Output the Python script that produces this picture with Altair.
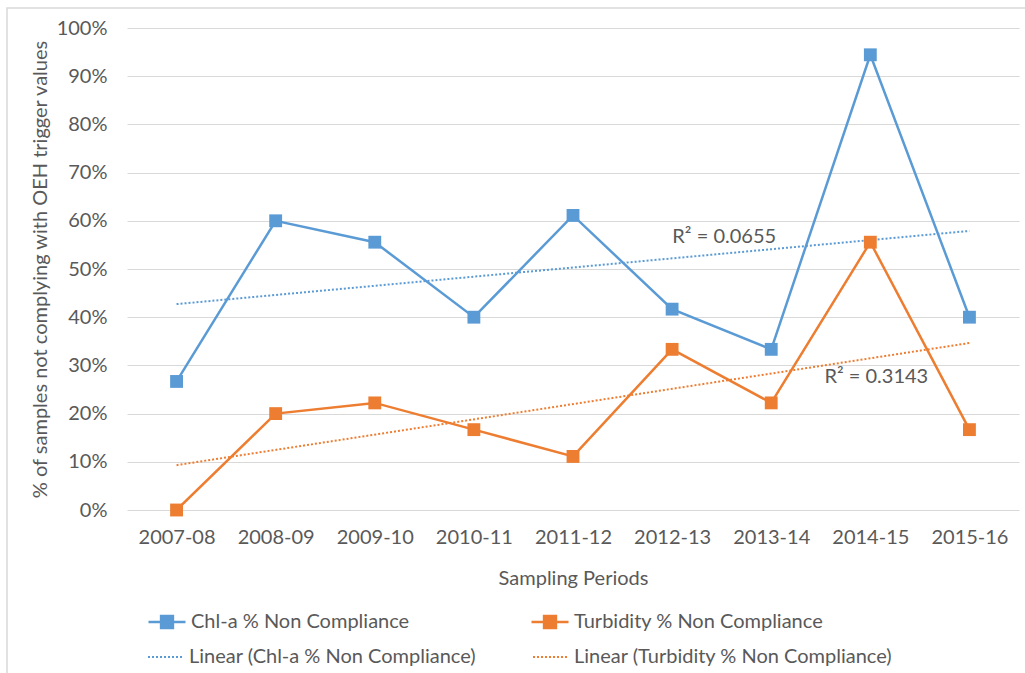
import altair as alt
import numpy as np
import pandas as pd

periods = ["2007-08", "2008-09", "2009-10", "2010-11", "2011-12",
           "2012-13", "2013-14", "2014-15", "2015-16"]
chla = [0.2667, 0.6000, 0.5556, 0.4000, 0.6111, 0.4167, 0.3333, 0.9444, 0.4000]
turbidity = [0.0000, 0.2000, 0.2222, 0.1667, 0.1111, 0.3333, 0.2222, 0.5556, 0.1667]

series_names = ["Chl-a % Non Compliance", "Turbidity % Non Compliance"]
trend_names = ["Linear (Chl-a % Non Compliance)", "Linear (Turbidity % Non Compliance)"]
r2_labels = ["R² = 0.0655", "R² = 0.3143"]
colors = ["#5B9BD5", "#ED7D31"]

TEXT = "#595959"
FONT = "Lato"
FS = 20

# long table of the two series
rows = []
for name, vals in zip(series_names, [chla, turbidity]):
    for p, v in zip(periods, vals):
        rows.append({"period": p, "series": name, "value": v})
df = pd.DataFrame(rows)

# least-squares trend lines over period index
idx = np.arange(len(periods))
trend_rows = []
label_frames = []
label_at = [6, 7]          # period index the R² label sits beside
label_dx = [-47, 6]
label_dy = [-12, 19]
for k, (tname, vals) in enumerate(zip(trend_names, [chla, turbidity])):
    slope, icept = np.polyfit(idx, vals, 1)
    for i in (0, len(periods) - 1):
        trend_rows.append({"period": periods[i], "trend": tname, "value": icept + slope * i})
    j = label_at[k]
    label_frames.append(pd.DataFrame([{"period": periods[j], "value": icept + slope * j,
                                       "text": r2_labels[k]}]))
tdf = pd.DataFrame(trend_rows)

x_enc = alt.X("period:O", sort=periods, scale=alt.Scale(type="point", padding=0.5),
              axis=alt.Axis(title="Sampling Periods", labelAngle=0, ticks=False, domain=False,
                            grid=False, labelPadding=17, labelFontSize=FS, labelColor=TEXT,
                            labelFont=FONT, titleFont=FONT, titleFontSize=FS,
                            titleFontWeight="normal", titleColor=TEXT,
                            titleY=68, titleBaseline="middle"))
y_scale = alt.Scale(domain=[0, 1], nice=False)
y_enc = alt.Y("value:Q", scale=y_scale,
              axis=alt.Axis(title="% of samples not complying with OEH  trigger values",
                            format=".0%", values=[i / 10 for i in range(11)],
                            ticks=False, domain=False, grid=True, gridColor="#D9D9D9",
                            gridWidth=1, labelPadding=20, labelFontSize=FS,
                            labelColor=TEXT, labelFont=FONT, titleFont=FONT,
                            titleFontSize=FS, titleFontWeight="normal", titleColor=TEXT,
                            titleX=-87, titleY=241, titleBaseline="middle", titleAngle=-90))

series_path = "M-1,0H1M-0.32,-0.32H0.32V0.32H-0.32Z"
series_legend = alt.Legend(title=None, orient="none", legendX=20, legendY=574, columns=2,
                           columnPadding=116, symbolType=series_path, symbolSize=1369,
                           symbolStrokeWidth=2.5, labelFontSize=FS, labelFont=FONT,
                           labelColor=TEXT, labelOffset=4, labelLimit=400, direction="horizontal")
trend_legend = alt.Legend(title=None, orient="none", legendX=20, legendY=611, columns=2,
                          columnPadding=52, symbolType="M-1,0H1", symbolSize=1156,
                          symbolStrokeWidth=2, symbolDash=[2, 2], labelFontSize=FS,
                          labelFont=FONT, labelColor=TEXT, labelOffset=6, labelLimit=400,
                          direction="horizontal")

series_color = alt.Color("series:N", scale=alt.Scale(domain=series_names, range=colors),
                         legend=series_legend)
trend_color = alt.Stroke("trend:N", scale=alt.Scale(domain=trend_names, range=colors),
                         legend=trend_legend)

# thin frame round the chart area (top and left edges fall inside the page)
frame = alt.Chart(pd.DataFrame({"f": [0]})).mark_rect(
    fill=None, stroke="#D9D9D9", strokeWidth=1.5).encode(
    x=alt.value(-120), x2=alt.value(920), y=alt.value(-20), y2=alt.value(680))

lines = alt.Chart(df).mark_line(strokeWidth=2.5).encode(x=x_enc, y=y_enc, color=series_color)
squares = alt.Chart(df).mark_square(size=165, filled=True, opacity=1).encode(
    x=x_enc, y=y_enc, color=series_color)
trends = alt.Chart(tdf).mark_line(strokeWidth=2, strokeDash=[2, 2]).encode(
    x=x_enc, y=y_enc, stroke=trend_color)
labels = [
    alt.Chart(ldf).mark_text(fontSize=FS, font=FONT, color=TEXT,
                             dx=label_dx[k], dy=label_dy[k]).encode(
        x=x_enc, y=y_enc, text="text:N")
    for k, ldf in enumerate(label_frames)
]

chart = alt.layer(frame, lines, trends, squares, *labels).properties(
    width=892, height=482,
    autosize=alt.AutoSizeParams(type="none"),
    padding={"left": 127, "top": 28, "right": 6, "bottom": 163},
    background="white",
).configure_view(stroke=None)

chart.save("out.html", embed_options={"renderer": "svg", "actions": False})
